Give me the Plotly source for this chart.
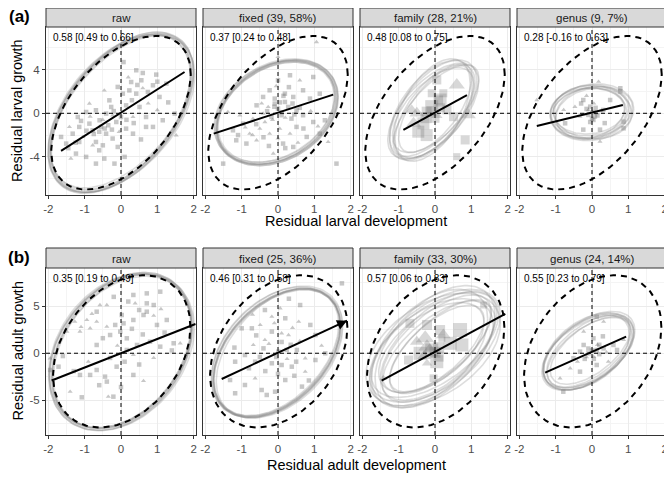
import numpy as np
import plotly.graph_objects as go
from plotly.subplots import make_subplots

# ---- panel labels ----
strip_a = ["raw", "fixed (39, 58%)", "family (28, 21%)", "genus (9, 7%)"]
strip_b = ["raw", "fixed (25, 36%)", "family (33, 30%)", "genus (24, 14%)"]
corr_a = ["0.58 [0.49 to 0.66]", "0.37 [0.24 to 0.48]", "0.48 [0.08 to 0.75]", "0.28 [-0.16 to 0.63]"]
corr_b = ["0.35 [0.19 to 0.49]", "0.46 [0.31 to 0.58]", "0.57 [0.06 to 0.83]", "0.55 [0.23 to 0.79]"]

# ---- points (x, y, shape t=triangle s=square) ----
a_raw_x = [0.07, 0.42, 0.6, 0.97, 1.25, -0.09, 0.23, -0.46, 0.42, 0.74, 0.88, 1.06, -0.32, 0.14, 0.51, 0.69, 1.15, 1.48, 1.52, -1.19,
           -0.96, -0.69, -0.41, -0.23, -0.13, -0.59, -0.87, -1.15, -1.33, -1.05, -0.78, -0.55, -0.41, -0.69, -0.23, -0.09, 0.14, 0.33, 0.69, -1.24,
           -1.38, -0.96, -0.69, -0.46, -0.18, -1.51, -1.65, -1.42, -0.87, -0.27, 0.28, 0.56, 0.05, -1.15, 0.33, 0.88, 0.0, -0.78, -0.5, 0.1,
           -0.6, -0.45, -0.35, -0.75, -0.25, -0.5, -0.95, -1.1, 0.3, 0.6, 0.45, 1.0, 0.75, 0.35, 0.55, -0.05, -1.25, -0.6, 0.2, 1.3,
           -0.2, -0.85, 0.15, -1.45, 1.0]
a_raw_y = [4.7, 3.95, 3.7, 3.55, 2.72, 2.42, 2.1, 2.1, 1.8, 1.96, 2.57, 1.5, 1.19, 0.73, 0.58, -0.34, -0.64, -0.03, -2.02, -0.34,
           0.12, 0.28, -0.03, -0.18, -0.8, -0.64, -0.95, -1.25, -1.87, -2.17, -1.56, -1.25, -1.87, -2.63, -2.32, -3.09, -1.41, -1.87, -1.25, -3.7,
           -4.16, -4.0, -4.62, -4.16, -4.62, -2.78, -2.17, -1.25, 0.89, 0.58, 2.87, 3.03, 1.8, -2.63, -0.34, -1.25, -0.34, -2.94, -2.94, -4.0,
           -1.7, -1.4, -1.1, -1.9, -1.5, -0.6, -1.6, -0.7, 1.2, 2.3, 2.6, 2.9, 0.9, -0.9, -2.4, -1.7, -2.7, -3.4, 3.3, 1.0,
           0.2, -0.3, -0.6, -3.2, 0.3]
a_raw_s = "sssssssts sssssssss tsssstsss sstssssss sssstssss ssttsssss tsstssssss stsssts stss tsstsstss tsst"

a_fix_x = [0.0, 1.06, 0.0, 0.33, 0.6, 0.97, -0.23, -0.41, -0.09, 0.19, 0.42, 0.69, 0.88, 1.15, -0.59, -0.27, 0.0, 0.28, 0.51, 0.1,
           -0.18, 0.37, 0.69, 0.97, 1.29, -0.96, -1.24, -0.78, -0.5, -0.23, 0.05, 0.33, 0.51, 0.79, 1.15, -1.15, -0.87, -0.59, 0.14, 0.42,
           1.38, 1.61, -1.51, -0.13, -1.38, -1.05, -0.41, -0.09, 0.19, -0.36, -0.69,
           -0.1, 0.05, -0.3, 0.2, 0.1, -0.15, 0.4, 0.6, -0.05, 0.3, -0.6, -0.9, -1.1, -0.4, 0.0, 0.2, 0.55, 0.9, 1.1, -0.45,
           -0.7, 0.7, 0.15, -0.25, 0.45]
a_fix_y = [5.17, 6.54, 3.03, 3.49, 3.03, 3.33, 2.11, 1.5, 1.35, 1.8, 1.5, 2.11, 1.35, 1.8, 0.73, 0.58, 0.43, 0.58, 0.27, -0.18,
           -0.34, -0.49, -0.18, -0.8, -0.64, -0.95, -1.56, -1.87, -1.41, -1.87, -1.41, -1.87, -1.25, -2.17, -1.87, -2.48, -2.78, -2.48, -2.78, -3.09,
           -2.63, -4.62, -4.62, -3.7, 0.12, -0.18, -0.03, 0.89, 1.04, -0.8, -0.49,
           0.6, 1.0, 0.2, -0.4, 0.1, -0.6, 0.9, 0.5, 2.5, 2.4, -1.0, -1.3, -2.0, -2.2, -2.3, -3.2, -2.7, 0.2, -1.2, 0.9,
           -2.0, -1.4, 1.6, -3.0, -0.1]
a_fix_s = "ttsstssss sssssstss sssssssss tttttsssss tsstsstttt ssttssstst sstsstssts tttttsssss tsss"

a_fam_x = [0.6, 0.05, 0.14, -0.09, -0.23, -0.5, -0.59, -0.32, -0.46, -0.23, 0.33, 0.51, 0.92, 0.83, 0.6, 0.1, -0.09, 0.23, 0.0, -0.64,
           -0.1, 0.05, 0.15, -0.25]
a_fam_y = [2.6, 3.06, 1.22, 0.61, 0.15, 0.0, -0.92, -0.92, -1.69, -2.0, 0.31, -0.31, -0.15, -2.45, -3.98, 1.22, 1.84, 1.84, -0.46, 0.31,
           0.2, -0.2, 0.5, -0.4]
a_fam_s = "tssssttss ssstsssssst sts"
a_fam_sz = [14, 9, 13, 13, 10, 13, 13, 12, 12, 12, 9, 9, 13, 9, 7, 9, 8, 8, 9, 11, 10, 10, 9, 11]

a_gen_x = [0.18, 0.78, 0.78, 0.87, 0.87, 0.22, -1.52, -0.24, -0.05, -0.33, 0.04, 0.31, 0.13, -0.1, -0.47, -0.74, 0.5, -0.78, -0.24, 0.22,
           0.0, 0.08, -0.15, 0.05, -0.05, 0.05, -0.1, 0.15, -0.2, 0.1, 0.0, 0.25, -0.3, 0.35, -0.15]
a_gen_y = [2.9, 2.3, 2.0, -0.77, -1.38, -2.6, 1.22, 1.22, 0.61, -0.31, -0.61, 0.31, 0.0, -0.15, 0.6, -0.92, 1.22, 0.31, -1.5, -1.5,
           0.2, -0.3, 0.4, 0.9, -0.8, 0.1, 0.3, -0.2, -0.1, 0.5, -0.5, 0.2, 0.9, -0.9, 1.6]
a_gen_s = "tsssstts stssts tsstss tsst s ststsstsst"

b_raw_x = [0.34, 0.71, 1.08, 0.39, 0.71, 0.9, -0.39, -0.58, -0.67, 0.02, 0.62, 0.71, -0.94, -1.27, -0.67, -0.39, -0.16, 0.07, 0.34, 0.99,
           1.26, -1.13, -1.49, -0.85, -0.3, -0.02, 0.16, 0.44, 0.8, 1.08, 1.45, 1.63, 0.16, 0.34, -1.95, -1.72, -1.13, -0.85, -0.67, -0.44,
           -0.39, -0.12, 0.34, 0.62, -1.4, -1.08, -0.35, -0.21, -1.95, -0.67,
           0.5, 0.2, 0.9, -0.8, -1.1, -0.5, 0.3, 0.6, 1.2, 1.4, -0.1, 0.1, -0.3, -0.9, -1.3, -0.6, 0.0, 0.5, 0.9, -1.6,
           1.1, -0.2]
b_raw_y = [6.2, 6.37, 6.55, 5.31, 5.31, 5.13, 5.13, 5.13, 4.42, 4.07, 4.07, 4.42, 3.54, 3.36, 3.36, 2.83, 3.01, 3.18, 3.54, 3.01,
           3.54, 2.3, 2.3, 2.65, 1.94, 2.3, 1.59, 0.88, 1.23, 0.7, 1.06, 1.06, 0.35, -0.18, -0.54, -1.43, -2.31, -2.31, -1.78, -2.49,
           -3.02, -1.43, -2.31, -2.95, -4.09, -4.69, -4.62, -4.62, -1.78, 0.88,
           4.6, 5.5, 4.0, 4.2, 2.8, 1.6, 2.6, 2.0, 2.2, 0.3, 0.8, -0.9, -0.5, -0.9, -1.9, -3.4, -3.6, -1.2, -0.5, -0.3,
           4.7, 6.0]
b_raw_s = "ssstsstts sssttttsss ssttts ssssss tsttsssssss sttstss s sstttssss stsstsssst st"

b_fix_x = [1.76, 0.61, 0.06, -0.36, -0.17, 0.2, 0.57, 0.89, -0.49, -0.72, -1.0, -0.17, 0.1, 0.29, -0.36, -0.68, -0.4, 0.01, 0.24, 0.52,
           0.75, 1.03, 1.3, -0.91, -1.18, -0.63, -0.17, 0.1, 0.38, 0.75, -0.63, -0.91, -1.18, -0.45, -0.08, 0.2, -1.32, -0.31, 0.66, 1.03,
           0.4, -0.1, -0.6, -0.25, 0.1, 0.35, 0.6, -0.5, -0.05, 0.25, 0.5, -0.8, -0.35, 0.0, 0.45, 1.2, -1.2, 0.85, -0.7, 0.3]
b_fix_y = [7.44, 5.13, 4.78, 4.6, 3.89, 3.72, 3.36, 3.01, 3.01, 2.65, 2.65, 2.3, 2.12, 1.94, 1.41, 0.88, 0.52, 0.17, 0.35, 0.35,
           -0.54, -0.72, -0.01, -0.19, -0.9, -0.9, -1.07, -1.25, -1.43, -1.96, -2.67, -3.38, -4.26, -3.91, -4.09, -2.85, -2.85, -4.44, -3.55, 1.94,
           2.7, 3.2, 1.9, 1.0, 1.2, 0.9, 1.3, -0.4, -0.4, -0.6, -0.9, -1.6, -1.9, -2.2, -2.4, 0.8, 0.6, -2.9, 4.1, 5.8]
b_fix_s = "sstststst ssstttt ssssts ssssssst tssssssss s ttstsstsst ssssstssts"

b_fam_x = [-0.22, 0.14, -0.27, -0.5, 0.69, 0.23, 0.42, 0.74, -0.09, -0.41, 0.1, 0.05, -0.22, -0.04, -0.69, -0.73, -1.42, 1.34, -0.22, 0.19,
           -0.15, 0.0, 0.1, -0.3]
b_fam_y = [3.01, 2.47, 1.59, 1.23, 2.47, 1.94, 1.06, 0.88, 0.35, -0.01, -0.36, -0.9, -1.07, -2.67, 3.18, -0.72, -2.67, 5.13, 0.7, 1.59,
           0.4, 0.1, 0.6, -0.3]
b_fam_s = "ssttstss ssssts sstst s tsst"
b_fam_sz = [10, 10, 16, 12, 14, 13, 13, 13, 13, 13, 10, 13, 9, 8, 9, 9, 7, 7, 15, 7, 12, 11, 11, 12]

b_gen_x = [0.13, 0.32, -0.23, 0.04, -0.23, -0.33, -0.1, 0.13, 0.32, 0.59, 0.69, 0.45, 0.13, -0.33, -0.6, -0.88, -0.79, -0.51, 0.04, 0.87,
           0.0, -0.15, 0.2, 0.05, 0.05, -0.1, 0.2, 0.15, -0.2, 0.4, 0.3, -0.4]
b_gen_y = [3.89, 3.36, 2.3, 1.59, 0.88, 0.17, -0.01, 0.35, 0.52, 0.88, 0.35, -0.9, -1.25, -1.96, -1.6, -2.67, -4.09, -0.54, -0.36, 1.41,
           0.3, -0.4, 0.9, -0.6, 0.2, 0.5, -0.1, 0.9, -0.6, 0.1, 1.8, -0.9]
b_gen_s = "sttssssss sstsstts stt stss tsstst st"

# ---- ellipse parameters (cx, cy, half-width, half-height, r) ----
dash_a = (0.0, 0.05, 1.92, 7.05, 0.5)
dash_b = (0.02, 0.2, 1.89, 8.1, 0.32)

ell_a_raw = [(0.0, 0.1, 1.95, 7.2, 0.5), (0.02, 0.0, 1.98, 7.3, 0.52), (-0.02, 0.1, 1.93, 7.1, 0.48), (0.0, 0.05, 2.0, 7.4, 0.5),
             (0.03, 0.15, 1.96, 7.0, 0.53), (-0.03, 0.0, 1.97, 7.25, 0.47), (0.0, 0.1, 1.92, 7.35, 0.51), (0.01, -0.05, 2.02, 7.2, 0.49)]
ell_a_fix = [(-0.05, 0.1, 1.65, 4.75, 0.3), (-0.03, 0.05, 1.68, 4.85, 0.29), (-0.06, 0.15, 1.62, 4.65, 0.32), (-0.04, 0.1, 1.7, 4.9, 0.28),
             (-0.05, 0.0, 1.63, 4.7, 0.31), (-0.02, 0.12, 1.66, 4.8, 0.3), (-0.07, 0.08, 1.69, 4.75, 0.27), (-0.05, 0.1, 1.6, 4.6, 0.3)]
ell_a_fam = [(-0.05, 0.3, 1.2, 4.6, 0.58), (0.0, 0.2, 1.1, 4.3, 0.62), (-0.1, 0.35, 1.15, 4.5, 0.55), (0.0, 0.4, 1.0, 4.0, 0.66),
             (-0.05, 0.2, 1.25, 4.4, 0.6), (-0.08, 0.3, 1.05, 4.7, 0.52), (0.03, 0.25, 1.18, 4.2, 0.7), (-0.05, 0.3, 1.12, 3.9, 0.6)]
ell_a_gen = [(-0.05, 0.1, 1.1, 2.5, 0.1), (0.0, 0.05, 1.0, 2.4, 0.15), (-0.1, 0.15, 1.05, 2.2, 0.05), (0.0, 0.1, 1.15, 2.6, 0.12),
             (-0.05, 0.0, 0.95, 2.3, 0.2), (0.02, 0.1, 1.08, 2.45, -0.05), (-0.08, 0.2, 0.98, 2.1, 0.08), (0.0, 0.1, 1.12, 2.35, 0.18)]

ell_b_raw = [(0.02, 0.2, 1.92, 8.2, 0.33), (0.0, 0.1, 1.95, 8.3, 0.3), (0.04, 0.25, 1.9, 8.15, 0.35), (0.0, 0.2, 1.98, 8.4, 0.32),
             (0.03, 0.15, 1.93, 8.05, 0.34), (-0.02, 0.25, 1.96, 8.25, 0.29), (0.02, 0.1, 2.0, 8.35, 0.31), (0.01, 0.3, 1.91, 8.3, 0.33)]
ell_b_fix = [(-0.03, 0.08, 1.75, 6.83, 0.42), (0.0, 0.0, 1.78, 6.9, 0.4), (-0.05, 0.1, 1.72, 6.75, 0.44), (-0.03, 0.15, 1.8, 7.0, 0.41),
             (-0.02, 0.05, 1.74, 6.7, 0.43), (-0.06, 0.1, 1.77, 6.95, 0.39), (0.0, 0.08, 1.7, 6.85, 0.45), (-0.03, 0.0, 1.76, 6.8, 0.42)]
ell_b_fam = [(0.0, 0.6, 1.8, 6.2, 0.55), (0.1, 0.8, 1.6, 5.8, 0.6), (-0.1, 0.3, 1.7, 5.5, 0.5), (0.05, 1.0, 1.5, 5.2, 0.65),
             (-0.05, 0.4, 1.85, 6.0, 0.45), (0.15, 0.7, 1.4, 5.0, 0.7), (-0.15, 0.5, 1.6, 6.3, 0.5), (0.0, 0.9, 1.75, 5.6, 0.58),
             (0.1, 0.2, 1.55, 5.4, 0.62), (-0.1, 0.6, 1.45, 4.8, 0.55), (0.05, 0.5, 1.3, 4.6, 0.68), (0.0, 0.7, 1.65, 6.5, 0.52)]
ell_b_gen = [(-0.1, 0.17, 1.24, 4.08, 0.5), (-0.05, 0.2, 1.2, 3.9, 0.55), (-0.15, 0.1, 1.18, 4.0, 0.48), (-0.1, 0.25, 1.28, 4.2, 0.52),
             (-0.08, 0.1, 1.15, 3.7, 0.58), (-0.12, 0.2, 1.22, 4.1, 0.45), (-0.1, 0.15, 1.26, 3.85, 0.5), (-0.05, 0.3, 1.1, 3.6, 0.6)]

# ---- regression lines (x from, x to, slope, intercept) ----
fit_a = [(-1.65, 1.75, 2.13, 0.06), (-1.77, 1.52, 1.09, 0.06), (-0.87, 0.88, 1.83, 0.06), (-1.52, 0.85, 0.81, 0.07)]
fit_b = [(-1.91, 2.05, 1.52, 0.0), (-1.55, 1.9, 1.8, 0.05), (-1.47, 1.935, 2.09, 0.15), (-1.29, 0.94, 1.72, 0.15)]

x_ticks = [-2, -1, 0, 1, 2]

rows = [
    dict(pts=[(a_raw_x, a_raw_y, a_raw_s, None), (a_fix_x, a_fix_y, a_fix_s, None),
              (a_fam_x, a_fam_y, a_fam_s, a_fam_sz), (a_gen_x, a_gen_y, a_gen_s, None)],
         ells=[ell_a_raw, ell_a_fix, ell_a_fam, ell_a_gen], dash=dash_a, fits=fit_a,
         strips=strip_a, corr=corr_a, yr=[-7.5, 7.92], yt=[-4, 0, 4], ym=[-6, -2, 2, 6]),
    dict(pts=[(b_raw_x, b_raw_y, b_raw_s, None), (b_fix_x, b_fix_y, b_fix_s, None),
              (b_fam_x, b_fam_y, b_fam_s, b_fam_sz), (b_gen_x, b_gen_y, b_gen_s, None)],
         ells=[ell_b_raw, ell_b_fix, ell_b_fam, ell_b_gen], dash=dash_b, fits=fit_b,
         strips=strip_b, corr=corr_b, yr=[-8.7, 9.07], yt=[-5, 0, 5], ym=[-7.5, -2.5, 2.5, 7.5]),
]


def ellipse(p):
    cx, cy, hx, hy, r = p
    t = np.linspace(0, 2 * np.pi, 120)
    return cx + hx * np.cos(t), cy + hy * (r * np.cos(t) + np.sqrt(1 - r * r) * np.sin(t))


def shapes_of(code, n):
    code = code.replace(" ", "")
    return [code[i] if i < len(code) else "s" for i in range(n)]


fig = make_subplots(rows=2, cols=4)

# page geometry (browser pixels); the page body adds an 8px offset to the figure
OFF = 8
PL, PR, PT, PB = 46, 667, 8, 435
W, H = PR - PL, PB - PT
px_left = [46, 203, 360, 517]
pw = 150
row_pix = [(8, 27, 195), (248, 268, 435)]  # strip top, panel top, panel bottom


def fx(p):
    return (p - PL) / W


def fy(p):
    return 1 - (p - PT) / H


GRAY_PT = "rgba(95,95,95,0.35)"
GRAY_EL = "rgba(130,130,130,0.27)"

for ri, rw in enumerate(rows):
    for ci in range(4):
        r, c = ri + 1, ci + 1
        n = ri * 4 + ci + 1
        sfx = "" if n == 1 else str(n)
        xs, ys, code, sz = rw["pts"][ci]
        ss = shapes_of(code, len(xs))
        for shp, sym in [("t", "triangle-up"), ("s", "square")]:
            idx = [i for i, s in enumerate(ss) if s == shp]
            fig.add_trace(go.Scatter(
                x=[xs[i] for i in idx], y=[ys[i] for i in idx], mode="markers",
                marker=dict(symbol=sym, color=GRAY_PT, line=dict(width=0),
                            size=[sz[i] for i in idx] if sz else 4.5),
                hoverinfo="skip"), row=r, col=c)
        for p in rw["ells"][ci]:
            ex, ey = ellipse(p)
            fig.add_trace(go.Scatter(x=ex, y=ey, mode="lines",
                                     line=dict(color=GRAY_EL, width=1.6), hoverinfo="skip"), row=r, col=c)
        ex, ey = ellipse(rw["dash"])
        fig.add_trace(go.Scatter(x=ex, y=ey, mode="lines",
                                 line=dict(color="black", width=2, dash="6px,5px")), row=r, col=c)
        fig.add_hline(y=0, line=dict(color="black", width=1, dash="4px,3px"), row=r, col=c)
        fig.add_vline(x=0, line=dict(color="black", width=1, dash="4px,3px"), row=r, col=c)
        x0, x1, b1, b0 = rw["fits"][ci]
        fig.add_trace(go.Scatter(
            x=[x0, x1], y=[b0 + b1 * x0, b0 + b1 * x1], mode="lines",
            line=dict(color="black", width=2)), row=r, col=c)
        if ri == 1 and ci == 1:
            # arrow head at the end of the fitted line
            fig.add_annotation(x=x1, y=b0 + b1 * x1, ax=x1 - 0.25, ay=b0 + b1 * (x1 - 0.25),
                               xref="x" + sfx, yref="y" + sfx, axref="x" + sfx, ayref="y" + sfx,
                               text="", showarrow=True, arrowhead=2, arrowsize=1, arrowwidth=2,
                               arrowcolor="black")

        st, pt, pb = row_pix[ri]
        xd = [fx(px_left[ci]), fx(px_left[ci] + pw)]
        yd = [fy(pb), fy(pt)]
        fig.layout["xaxis" + sfx].update(
            domain=xd, range=[-2.065, 2.065], tickvals=x_ticks, ticktext=[str(v) for v in x_ticks],
            showgrid=True, gridcolor="#EBEBEB", gridwidth=1,
            minor=dict(tickvals=[-1.5, -0.5, 0.5, 1.5], showgrid=True, gridcolor="#F4F4F4", gridwidth=0.5, ticks=""),
            showline=True, mirror=True, linecolor="#333333", linewidth=1,
            ticks="outside", ticklen=3, tickcolor="#333333",
            tickfont=dict(size=11.5, color="#4D4D4D"), zeroline=False)
        fig.layout["yaxis" + sfx].update(
            domain=yd, range=rw["yr"], tickvals=rw["yt"], ticktext=[str(v) for v in rw["yt"]],
            showgrid=True, gridcolor="#EBEBEB", gridwidth=1,
            minor=dict(tickvals=rw["ym"], showgrid=True, gridcolor="#F4F4F4", gridwidth=0.5, ticks=""),
            showline=True, mirror=True, linecolor="#333333", linewidth=1,
            ticks="outside" if ci == 0 else "", ticklen=3, tickcolor="#333333",
            showticklabels=(ci == 0),
            tickfont=dict(size=11.5, color="#4D4D4D"), zeroline=False)
        fig.add_shape(type="rect", xref="paper", yref="paper",
                      x0=xd[0], x1=xd[1], y0=fy(pt), y1=fy(st),
                      fillcolor="#D9D9D9", line=dict(color="#333333", width=1), layer="above")
        fig.add_annotation(xref="paper", yref="paper", x=(xd[0] + xd[1]) / 2, y=fy((st + pt) / 2 + 0.5),
                           xanchor="center", yanchor="middle", text=rw["strips"][ci], showarrow=False,
                           font=dict(size=11.5, color="#1A1A1A"))
        fig.add_annotation(xref="x" + sfx + " domain", yref="y" + sfx + " domain", x=0.03, y=0.985,
                           xanchor="left", yanchor="top", text=rw["corr"][ci], showarrow=False,
                           font=dict(size=10, color="black"))

# axis titles and row tags
ann = dict(xref="paper", yref="paper", showarrow=False, xanchor="center", yanchor="middle")
tfont = dict(size=14.5, color="black")
fig.add_annotation(x=fx(17), y=fy((27 + 195) / 2), text="Residual larval growth", textangle=-90, font=tfont, **ann)
fig.add_annotation(x=fx(17), y=fy((268 + 435) / 2), text="Residual adult growth", textangle=-90, font=tfont, **ann)
fig.add_annotation(x=fx(356), y=fy(221), text="Residual larval development", font=tfont, **ann)
fig.add_annotation(x=fx(356), y=fy(465), text="Residual adult development", font=tfont, **ann)
fig.add_annotation(x=fx(19), y=fy(16), text="<b>(a)</b>", font=dict(size=17, color="black"), **ann)
fig.add_annotation(x=fx(19), y=fy(257), text="<b>(b)</b>", font=dict(size=17, color="black"), **ann)

fig.update_layout(
    width=672, height=480, showlegend=False,
    margin=dict(l=PL - OFF, r=672 - (PR - OFF), t=PT - OFF, b=480 - (PB - OFF)),
    paper_bgcolor="white", plot_bgcolor="white",
    font=dict(family="Liberation Sans, Arial, sans-serif"),
)

fig.write_html("out.html")
